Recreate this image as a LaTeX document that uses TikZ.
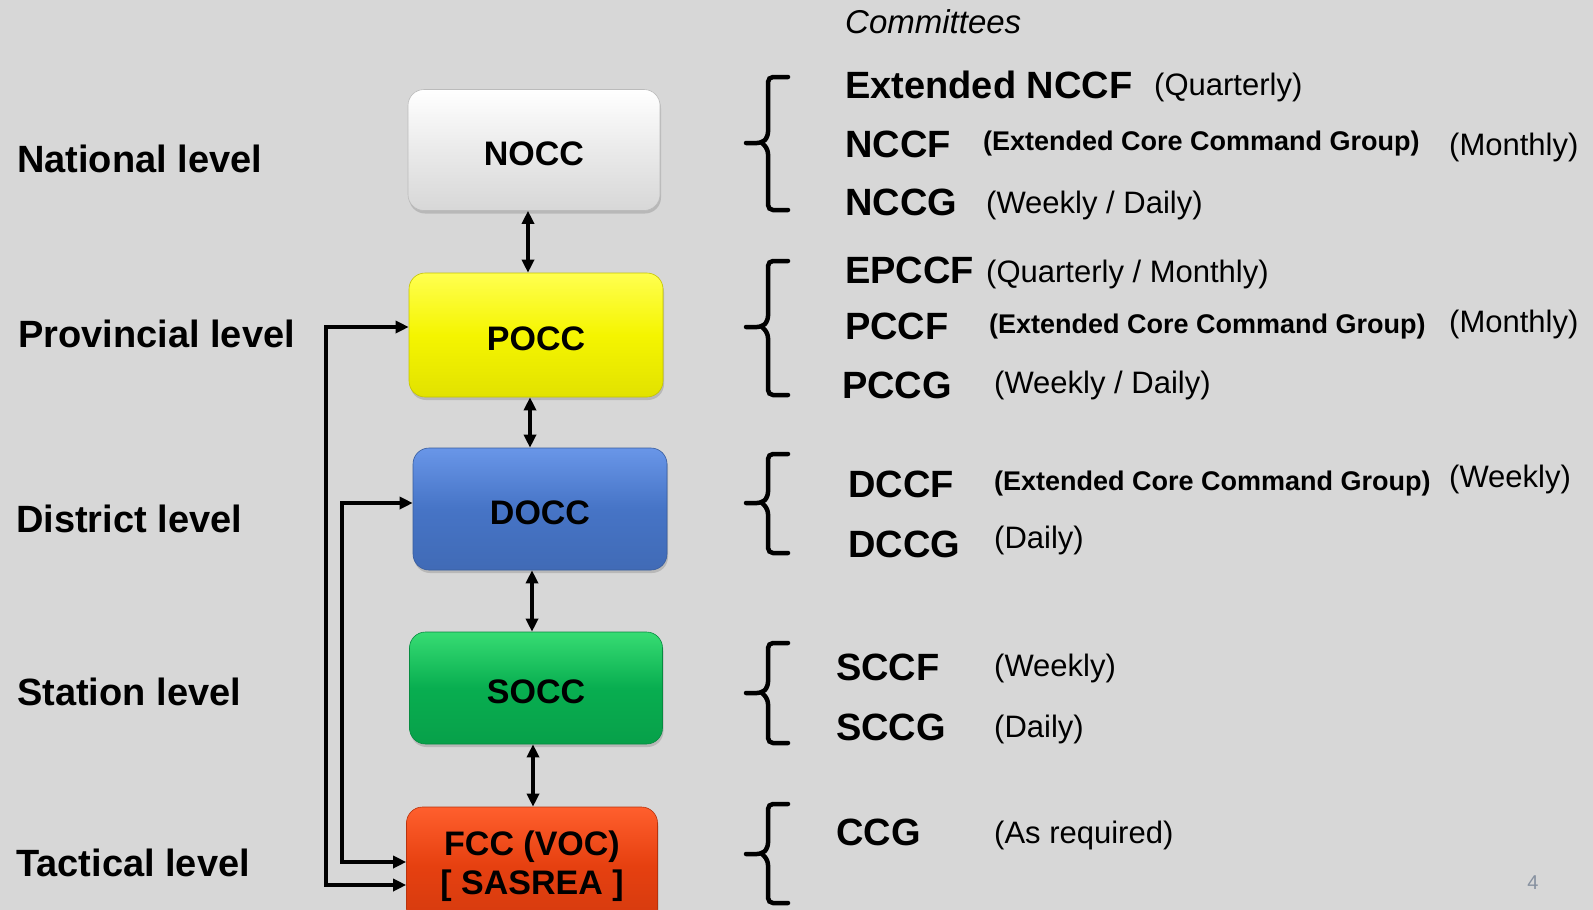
\documentclass[tikz,border=0pt]{standalone}
\usepackage{fontspec}
\setmainfont{Liberation Sans}
\usetikzlibrary{arrows.meta,shadows,calc}
\definecolor{bg}{RGB}{215,215,215}
\definecolor{nbase}{RGB}{234,234,234}
\definecolor{ntop}{RGB}{255,255,255}
\definecolor{pbase}{RGB}{245,245,0}
\definecolor{ptop}{RGB}{255,255,80}
\definecolor{dbase}{RGB}{70,116,198}
\definecolor{dtop}{RGB}{105,150,232}
\definecolor{sbase}{RGB}{8,174,80}
\definecolor{stop}{RGB}{55,220,115}
\definecolor{fbase}{RGB}{230,64,16}
\definecolor{ftop}{RGB}{255,95,45}
\definecolor{pagenum}{RGB}{135,145,160}
\tikzset{
  box/.style n args={2}{rounded corners=16pt, inner sep=0pt, align=center,
    font=\fontsize{34}{39}\selectfont\bfseries,
    shading=axis, top color=#2, bottom color=#1!92!black, middle color=#1,
    draw=#1!80!black, line width=0.6pt,
    drop shadow={opacity=0.35, shadow xshift=1pt, shadow yshift=-3pt}},
  oneline/.style={text height=30pt, text depth=0pt},
  lvl/.style={anchor=base west, inner sep=0pt, font=\fontsize{38}{40}\selectfont\bfseries},
  code/.style={anchor=base west, inner sep=0pt, font=\fontsize{38}{40}\selectfont\bfseries},
  freq/.style={anchor=base west, inner sep=0pt, font=\fontsize{31}{33}\selectfont},
  ecg/.style={anchor=base west, inner sep=0pt, font=\fontsize{27}{29}\selectfont\bfseries},
  conn/.style={line width=3.3pt, {Triangle[length=13pt,width=12pt]}-{Triangle[length=13pt,width=12pt]}},
  bracestroke/.style={line width=4.5pt, rounded corners=5pt, line cap=round}
}
\begin{document}
\begin{tikzpicture}[x=1pt,y=-1pt]
\useasboundingbox (0,0) rectangle (1593,910);
\fill[bg] (0,0) rectangle (1593,910);

% boxes
\node[box={nbase}{ntop}, oneline, minimum width=252pt, minimum height=121pt] (nocc) at (534,150) {NOCC};
\node[box={pbase}{ptop}, oneline, minimum width=254pt, minimum height=124pt] (pocc) at (536,335) {POCC};
\node[box={dbase}{dtop}, oneline, minimum width=254pt, minimum height=122pt] (docc) at (540,509) {DOCC};
\node[box={sbase}{stop}, oneline, minimum width=253pt, minimum height=112pt] (socc) at (536,688) {SOCC};
\node[box={fbase}{ftop}, minimum width=251pt, minimum height=118pt] (fcc) at (532,866) {FCC (VOC)\\{[ SASREA ]}};

% vertical two-way arrows
\draw[conn] (528,0 |- nocc.south) -- (528,0 |- pocc.north);
\draw[conn] (530,0 |- pocc.south) -- (530,0 |- docc.north);
\draw[conn] (532,0 |- docc.south) -- (532,0 |- socc.north);
\draw[conn] (533,0 |- socc.south) -- (533,0 |- fcc.north);

% side connectors
\draw[conn] (pocc.west |- 0,327) -- (326,327) -- (326,885) -- (fcc.west |- 0,885);
\draw[conn] (docc.west |- 0,503) -- (342,503) -- (342,862) -- (fcc.west |- 0,862);

% level labels
\node[lvl] (lnat) at (17,172) {National level};
\node[lvl] (lprov) at (18,347) {Provincial level};
\node[lvl] (ldist) at (16,532) {District level};
\node[lvl] (lstat) at (17,705) {Station level};
\node[lvl] (ltact) at (16,876) {Tactical level};

% committees heading
\node[anchor=base west, inner sep=0pt, font=\fontsize{33}{35}\selectfont\itshape] (comm) at (845,34) {Committees};

% braces
\draw[bracestroke] (788,77) -- (768,77) -- (768,137) -- (762,143) -- (746,143);
\draw[bracestroke] (762,143) -- (768,149) -- (768,210) -- (788,210);
\draw[bracestroke] (788,261) -- (768,261) -- (768,321) -- (762,327) -- (746,327);
\draw[bracestroke] (762,327) -- (768,333) -- (768,395) -- (788,395);
\draw[bracestroke] (788,454) -- (768,454) -- (768,497) -- (762,503) -- (746,503);
\draw[bracestroke] (762,503) -- (768,509) -- (768,553) -- (788,553);
\draw[bracestroke] (788,643) -- (768,643) -- (768,687) -- (762,693) -- (746,693);
\draw[bracestroke] (762,693) -- (768,699) -- (768,743) -- (788,743);
\draw[bracestroke] (788,804) -- (768,804) -- (768,848) -- (762,854) -- (746,854);
\draw[bracestroke] (762,854) -- (768,860) -- (768,903) -- (788,903);

% national committees
\node[code] (extnccf) at (845,98) {Extended NCCF};
\node[freq] (fq1) at (1154,95) {(Quarterly)};
\node[code] (nccf) at (845,157) {NCCF};
\node[ecg] (ecg1) at (983,150) {(Extended Core Command Group)};
\node[freq] (fm1) at (1449,155) {(Monthly)};
\node[code] (nccg) at (845,215) {NCCG};
\node[freq] (fwd1) at (986,213) {(Weekly / Daily)};

% provincial committees
\node[code] (epccf) at (845,283) {EPCCF};
\node[freq] (fqm2) at (986,282) {(Quarterly / Monthly)};
\node[code] (pccf) at (845,339) {PCCF};
\node[ecg] (ecg2) at (989,333) {(Extended Core Command Group)};
\node[freq] (fm2) at (1449,332) {(Monthly)};
\node[code] (pccg) at (842,398) {PCCG};
\node[freq] (fwd2) at (994,393) {(Weekly / Daily)};

% district committees
\node[code] (dccf) at (848,497) {DCCF};
\node[ecg] (ecg3) at (994,490) {(Extended Core Command Group)};
\node[freq] (fw3) at (1449,487) {(Weekly)};
\node[code] (dccg) at (848,557) {DCCG};
\node[freq] (fd3) at (994,548) {(Daily)};

% station committees
\node[code] (sccf) at (836,680) {SCCF};
\node[freq] (fw4) at (994,676) {(Weekly)};
\node[code] (sccg) at (836,740) {SCCG};
\node[freq] (fd4) at (994,737) {(Daily)};

% tactical
\node[code] (ccg) at (836,845) {CCG};
\node[freq] (far5) at (994,843) {(As required)};

% page number
\node[inner sep=0pt, text=pagenum, font=\fontsize{20}{22}\selectfont] (pnum) at (1533,883) {4};
\end{tikzpicture}
\end{document}
